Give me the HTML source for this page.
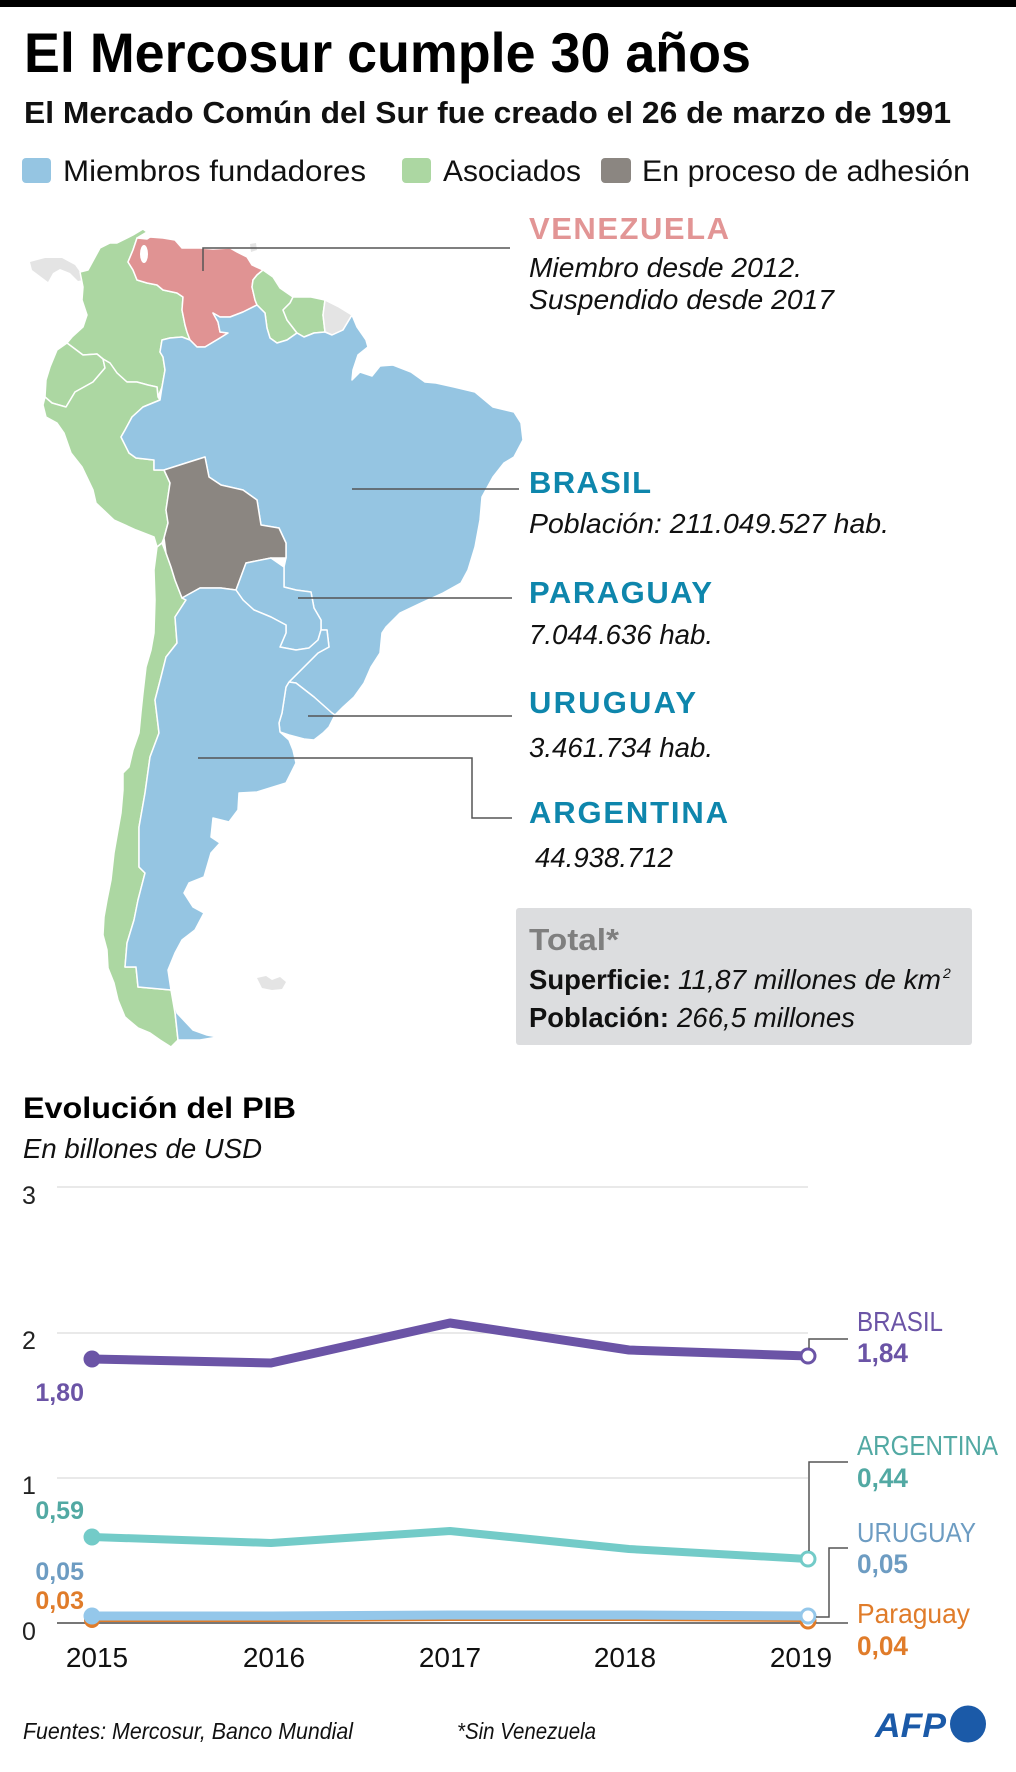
<!DOCTYPE html>
<html><head><meta charset="utf-8">
<style>
html,body{margin:0;padding:0;background:#fff}
svg{display:block}
text{font-family:"Liberation Sans",sans-serif}
</style></head>
<body>
<svg width="1016" height="1772" viewBox="0 0 1016 1772" xmlns="http://www.w3.org/2000/svg">
<rect x="0" y="0" width="1016" height="1772" fill="#fff"/>
<rect x="0" y="0" width="1016" height="7" fill="#000"/>

<!-- Header -->
<text x="24" y="72" font-size="56" font-weight="bold" fill="#000" textLength="727" lengthAdjust="spacingAndGlyphs">El Mercosur cumple 30 años</text>
<text x="24" y="123" font-size="31" font-weight="bold" fill="#111" textLength="927" lengthAdjust="spacingAndGlyphs">El Mercado Común del Sur fue creado el 26 de marzo de 1991</text>

<!-- Legend -->
<rect x="22" y="158" width="29" height="25" rx="4" fill="#95c5e2"/>
<text x="63" y="181" font-size="30" fill="#111" textLength="303" lengthAdjust="spacingAndGlyphs">Miembros fundadores</text>
<rect x="402" y="158" width="29" height="25" rx="4" fill="#acd7a2"/>
<text x="443" y="181" font-size="30" fill="#111" textLength="138" lengthAdjust="spacingAndGlyphs">Asociados</text>
<rect x="601" y="158" width="30" height="25" rx="4" fill="#8b8681"/>
<text x="642" y="181" font-size="30" fill="#111" textLength="328" lengthAdjust="spacingAndGlyphs">En proceso de adhesión</text>

<!-- MAP -->
<g stroke="#fff" stroke-width="1.5" stroke-linejoin="round">
<!-- Panama -->
<polygon fill="#e4e4e4" stroke="none" points="30,262 45,258 62,258 75,265 80,272 83,280 78,281 70,273 60,269 53,273 48,282 40,276 32,270"/>
<!-- Colombia -->
<polygon fill="#acd7a2" points="80,272 88,270 100,248 110,243 117,243 133,235 143,229 147,232 137,238 133,250 128,262 133,270 137,280 147,283 157,285 163,290 177,293 183,297 182,310 185,325 187,332 190,340 182,337 170,338 162,340 160,352 163,357 165,370 162,387 158,397 157,387 148,385 137,382 127,382 117,373 110,363 103,359 97,354 83,355 67,343 72,337 83,327 87,315 82,300 83,287"/>
<!-- Ecuador -->
<polygon fill="#acd7a2" points="67,343 83,355 97,354 103,359 105,368 93,382 75,392 66,407 52,403 45,397 46,380 50,367 57,350"/>
<!-- Peru -->
<polygon fill="#acd7a2" points="45,397 52,403 66,407 75,392 93,382 105,368 103,359 110,363 117,373 127,382 137,382 148,385 157,387 158,397 160,400 143,407 132,417 125,430 121,437 129,453 136,458 154,460 154,470 164,470 170,483 166,510 168,523 164,538 162,543 157,547 154,537 136,530 114,520 96,503 93,490 82,467 71,453 64,433 57,423 46,417 43,405"/>
<!-- Chile -->
<polygon fill="#acd7a2" points="157,547 162,543 166,553 171,567 175,580 182,598 186,600 175,617 177,643 166,657 161,677 155,700 159,733 150,757 145,793 139,827 139,867 145,873 138,900 134,920 127,943 125,967 136,967 138,987 171,990 175,1013 178,1040 171,1047 160,1040 150,1033 138,1028 125,1017 118,1000 114,983 108,968 107,950 103,935 104,917 107,900 111,880 114,853 118,830 121,813 123,790 123,773 129,767 133,750 139,733 141,712 143,693 146,667 151,650 154,633 155,600 154,570"/>
<!-- Venezuela -->
<polygon fill="#e09393" points="137,238 147,239 150,237 163,238 175,240 182,248 200,248 213,249 230,248 237,252 247,257 252,265 263,270 257,275 253,280 252,287 255,300 257,305 243,312 230,317 220,317 213,313 218,322 220,332 228,333 220,338 205,347 197,347 190,340 187,332 185,325 182,310 183,297 177,293 163,290 157,285 147,283 137,280 133,270 128,262 133,250"/>
<!-- Guyana -->
<polygon fill="#acd7a2" points="263,270 273,277 280,288 293,297 290,303 283,310 287,320 297,333 287,340 277,343 270,338 267,328 265,313 257,305 255,300 252,287 253,280 257,275"/>
<!-- Suriname -->
<polygon fill="#acd7a2" points="293,297 311,297 325,300 323,315 325,332 314,333 304,337 297,333 287,320 283,310 290,303"/>
<!-- French Guiana -->
<polygon fill="#e4e4e4" points="325,300 339,307 352,315 343,330 332,335 325,332 323,315"/>
<!-- Brazil -->
<polygon fill="#95c5e2" points="162,340 170,338 182,337 190,340 197,347 205,347 220,338 228,333 220,332 218,322 213,313 220,317 230,317 243,312 257,305 265,313 267,328 270,338 277,343 287,340 297,333 304,337 314,333 325,332 332,335 343,330 352,315 357,327 366,340 368,347 358,355 353,370 352,380 360,372 372,376 380,366 393,365 411,372 425,382 436,383 454,387 475,392 493,407 514,412 521,423 523,440 514,457 504,463 493,477 482,497 480,520 475,547 468,570 461,583 443,593 421,603 400,613 386,627 382,633 380,653 371,667 364,683 354,697 343,707 335,715 332,713 314,697 296,683 289,682 304,667 318,653 329,647 327,630 321,630 321,620 314,608 311,592 296,590 284,587 284,567 286,558 286,543 279,528 261,525 257,500 243,490 221,485 209,477 205,457 186,463 164,470 154,470 154,460 136,458 129,453 121,437 125,430 132,417 143,407 160,400 162,387 165,370 163,357 160,352"/>
<!-- Bolivia -->
<polygon fill="#8b8681" points="164,470 186,463 205,457 209,477 221,485 243,490 257,500 261,525 279,528 286,543 286,558 271,558 246,563 236,590 221,588 200,588 182,598 175,580 171,567 166,553 164,538 168,523 166,510 170,483"/>
<!-- Paraguay -->
<polygon fill="#95c5e2" points="236,590 246,563 271,558 284,567 284,587 296,590 311,592 314,608 321,620 321,630 318,640 309,648 296,650 280,647 286,633 286,625 271,617 254,610 243,600"/>
<!-- Uruguay -->
<polygon fill="#95c5e2" points="289,682 296,683 314,697 332,713 335,715 329,727 323,733 314,740 304,739 289,735 280,732 279,723 282,713 284,700 286,687"/>
<!-- Argentina -->
<polygon fill="#95c5e2" points="182,598 200,588 221,588 236,590 243,600 254,610 271,617 286,625 286,633 280,647 296,650 309,648 318,640 321,630 327,630 329,647 318,653 304,667 289,682 286,687 284,700 282,713 279,723 280,732 289,740 293,750 296,763 286,783 257,792 239,793 238,810 229,822 213,818 211,837 220,843 211,853 204,877 189,883 184,893 193,907 204,913 195,930 182,940 175,953 168,970 171,990 138,987 136,967 125,967 127,943 134,920 138,900 145,873 139,867 139,827 145,793 150,757 159,733 155,700 161,677 166,657 177,643 175,617 186,600"/>
<polygon fill="#95c5e2" points="173,993 177,1013 193,1030 207,1035 218,1037 200,1040 178,1040"/>
</g>
<!-- Lake Maracaibo / small islands -->
<ellipse cx="144" cy="254" rx="4" ry="9" fill="#fff"/>
<polygon fill="#e4e4e4" points="257,978 266,976 272,980 280,977 286,982 282,989 272,990 262,988"/>
<polygon fill="#e4e4e4" points="250,244 256,243 257,250 251,252"/>

<!-- Map leader lines -->
<g stroke="#555" stroke-width="1.5" fill="none">
<path d="M203,271 V248 H510"/>
<path d="M352,489 H519"/>
<path d="M298,598 H512"/>
<path d="M308,716 H512"/>
<path d="M198,758 H472 V818 H512"/>
</g>

<!-- Map labels -->
<text x="529" y="239" font-size="31" font-weight="bold" fill="#e29595" textLength="200" lengthAdjust="spacing">VENEZUELA</text>
<text x="529" y="277" font-size="28" font-style="italic" fill="#111" textLength="273" lengthAdjust="spacingAndGlyphs">Miembro desde 2012.</text>
<text x="529" y="309" font-size="28" font-style="italic" fill="#111" textLength="305" lengthAdjust="spacingAndGlyphs">Suspendido desde 2017</text>

<text x="529" y="493" font-size="31" font-weight="bold" fill="#0e86ac" textLength="122" lengthAdjust="spacing">BRASIL</text>
<text x="529" y="533" font-size="28" font-style="italic" fill="#111" textLength="360" lengthAdjust="spacingAndGlyphs">Población: 211.049.527 hab.</text>

<text x="529" y="603" font-size="31" font-weight="bold" fill="#0e86ac" textLength="183" lengthAdjust="spacing">PARAGUAY</text>
<text x="529" y="644" font-size="28" font-style="italic" fill="#111" textLength="184" lengthAdjust="spacingAndGlyphs">7.044.636 hab.</text>

<text x="529" y="713" font-size="31" font-weight="bold" fill="#0e86ac" textLength="167" lengthAdjust="spacing">URUGUAY</text>
<text x="529" y="757" font-size="28" font-style="italic" fill="#111" textLength="184" lengthAdjust="spacingAndGlyphs">3.461.734 hab.</text>

<text x="529" y="823" font-size="31" font-weight="bold" fill="#0e86ac" textLength="199" lengthAdjust="spacing">ARGENTINA</text>
<text x="535" y="867" font-size="28" font-style="italic" fill="#111" textLength="138" lengthAdjust="spacingAndGlyphs">44.938.712</text>

<!-- Total box -->
<rect x="516" y="908" width="456" height="137" rx="3" fill="#dcdddf"/>
<text x="529" y="950" font-size="31" font-weight="bold" fill="#7f7f7f" textLength="90" lengthAdjust="spacingAndGlyphs">Total*</text>
<text x="529" y="989" font-size="28" font-weight="bold" fill="#111" textLength="142" lengthAdjust="spacingAndGlyphs">Superficie:</text>
<text x="678" y="989" font-size="28" font-style="italic" fill="#111" textLength="263" lengthAdjust="spacingAndGlyphs">11,87 millones de km</text>
<text x="943" y="978" font-size="14" font-style="italic" fill="#111">2</text>
<text x="529" y="1027" font-size="28" font-weight="bold" fill="#111" textLength="140" lengthAdjust="spacingAndGlyphs">Población:</text>
<text x="677" y="1027" font-size="28" font-style="italic" fill="#111" textLength="178" lengthAdjust="spacingAndGlyphs">266,5 millones</text>

<!-- Chart title -->
<text x="23" y="1118" font-size="30" font-weight="bold" fill="#000" textLength="273" lengthAdjust="spacingAndGlyphs">Evolución del PIB</text>
<text x="23" y="1158" font-size="28" font-style="italic" fill="#111" textLength="239" lengthAdjust="spacingAndGlyphs">En billones de USD</text>

<!-- Gridlines -->
<g stroke="#e2e2e2" stroke-width="1.5">
<line x1="57" y1="1187" x2="808" y2="1187"/>
<line x1="57" y1="1333" x2="808" y2="1333"/>
<line x1="57" y1="1478" x2="808" y2="1478"/>
</g>
<line x1="57" y1="1623" x2="808" y2="1623" stroke="#777" stroke-width="2"/>

<!-- Y labels -->
<g font-size="25" fill="#222">
<text x="22" y="1204">3</text>
<text x="22" y="1349">2</text>
<text x="22" y="1494">1</text>
<text x="22" y="1640">0</text>
</g>

<!-- Year labels -->
<g font-size="28" fill="#111" text-anchor="middle">
<text x="97" y="1667">2015</text>
<text x="274" y="1667">2016</text>
<text x="450" y="1667">2017</text>
<text x="625" y="1667">2018</text>
<text x="801" y="1667">2019</text>
</g>

<!-- Series -->
<polyline points="92,1620 271,1620 450,1619 629,1619 808,1620" fill="none" stroke="#e07c2a" stroke-width="4" stroke-linejoin="round"/>
<circle cx="92" cy="1620" r="8" fill="#e07c2a"/>
<circle cx="808" cy="1621" r="7" fill="#fff" stroke="#e07c2a" stroke-width="3"/>

<polyline points="92,1616 271,1616 450,1615 629,1615 808,1616" fill="none" stroke="#94c7ea" stroke-width="9" stroke-linejoin="round"/>
<circle cx="92" cy="1616" r="8.5" fill="#94c7ea"/>
<circle cx="808" cy="1616" r="7" fill="#fff" stroke="#94c7ea" stroke-width="3"/>

<polyline points="92,1537 271,1543 450,1531 629,1549 808,1559" fill="none" stroke="#73cbc8" stroke-width="8" stroke-linejoin="round"/>
<circle cx="92" cy="1537" r="8.5" fill="#73cbc8"/>
<circle cx="808" cy="1559" r="7" fill="#fff" stroke="#73cbc8" stroke-width="3"/>

<polyline points="92,1359 271,1363 450,1323 629,1350 808,1356" fill="none" stroke="#6b54a6" stroke-width="9" stroke-linejoin="round"/>
<circle cx="92" cy="1359" r="8.5" fill="#6b54a6"/>
<circle cx="808" cy="1356" r="7" fill="#fff" stroke="#6b54a6" stroke-width="3"/>

<!-- Connectors -->
<g stroke="#555" stroke-width="1.5" fill="none">
<path d="M809,1348 V1339 H848"/>
<path d="M809,1551 V1462 H848"/>
<path d="M816,1617 H829 V1548 H848"/>
<path d="M816,1623 H848"/>
</g>

<!-- Left value labels -->
<g font-size="25" font-weight="bold" text-anchor="end">
<text x="84" y="1401" fill="#6b54a6">1,80</text>
<text x="84" y="1519" fill="#52a9a3">0,59</text>
<text x="84" y="1580" fill="#6d9cc2">0,05</text>
<text x="84" y="1609" fill="#e07c2a">0,03</text>
</g>

<!-- Right labels -->
<text x="857" y="1331" font-size="28" fill="#6b54a6" textLength="86" lengthAdjust="spacingAndGlyphs">BRASIL</text>
<text x="857" y="1362" font-size="27" font-weight="bold" fill="#6b54a6" textLength="51" lengthAdjust="spacingAndGlyphs">1,84</text>
<text x="857" y="1455" font-size="28" fill="#52a9a3" textLength="141" lengthAdjust="spacingAndGlyphs">ARGENTINA</text>
<text x="857" y="1487" font-size="27" font-weight="bold" fill="#52a9a3" textLength="51" lengthAdjust="spacingAndGlyphs">0,44</text>
<text x="857" y="1542" font-size="28" fill="#6d9cc2" textLength="119" lengthAdjust="spacingAndGlyphs">URUGUAY</text>
<text x="857" y="1573" font-size="27" font-weight="bold" fill="#6d9cc2" textLength="51" lengthAdjust="spacingAndGlyphs">0,05</text>
<text x="857" y="1623" font-size="28" fill="#e07c2a" textLength="113" lengthAdjust="spacingAndGlyphs">Paraguay</text>
<text x="857" y="1655" font-size="27" font-weight="bold" fill="#e07c2a" textLength="51" lengthAdjust="spacingAndGlyphs">0,04</text>

<!-- Footer -->
<text x="23" y="1739" font-size="23" font-style="italic" fill="#111" textLength="330" lengthAdjust="spacingAndGlyphs">Fuentes: Mercosur, Banco Mundial</text>
<text x="457" y="1739" font-size="23" font-style="italic" fill="#111" textLength="139" lengthAdjust="spacingAndGlyphs">*Sin Venezuela</text>

<!-- AFP logo -->
<text x="875" y="1737" font-size="34" font-weight="bold" font-style="italic" fill="#1b5aa8" textLength="71" lengthAdjust="spacingAndGlyphs">AFP</text>
<ellipse cx="968" cy="1724" rx="18" ry="18.5" fill="#1b5aa8"/>
</svg>
</body></html>
